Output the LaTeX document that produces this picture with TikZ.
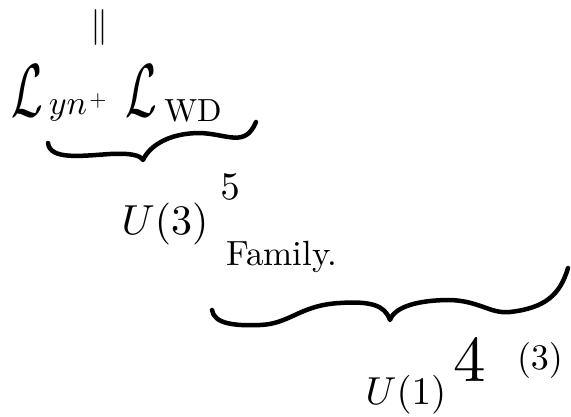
\documentclass[tikz,border=0pt]{standalone}
\usepackage{amsmath}
\usepackage{graphicx}
\tikzset{
  brace/.style={line width=4.5pt, line cap=round, line join=round},
  txt/.style={inner sep=0pt, outer sep=0pt},
}
\begin{document}
\begin{tikzpicture}[x=1pt,y=-1pt]
\useasboundingbox[fill=white] (0,0) rectangle (571,416);
% top double bar
\node[txt] (eq) at (99,27) {\scalebox{3.6}{$\|$}};
% Lagrangians
\node[txt] (L1) at (27,91) {\scalebox{4.6}[7.5]{$\mathcal{L}$}};
\node[txt] (yn) at (68,110) {\scalebox{3.4}{$yn$}};
\node[txt] (plus) at (98,101) {\scalebox{2.2}{$+$}};
\node[txt] (L2) at (141,91) {\scalebox{4.6}[7.5]{$\mathcal{L}$}};
\node[txt] (WD) at (193,111) {\scalebox{3.2}{WD}};
% first brace
\draw[brace] (48,143) .. controls (50,160) and (80,156) .. (110,154)
  .. controls (130,153) and (140,155) .. (143,160)
  .. controls (150,145) and (170,133) .. (200,133)
  .. controls (228,134) and (245,148) .. (256,122);
% U(3)^5 Family
\node[txt] (U3) at (165,224) {\scalebox{4.2}{$U(3)$}};
\node[txt] (five) at (230,187) {\scalebox{3.9}{$5$}};
\node[txt] (fam) at (282,257) {\scalebox{3.5}{Family.}};
% second brace
\draw[brace] (212,310) .. controls (214,324) and (235,326) .. (260,325)
  .. controls (290,324) and (300,305) .. (340,303)
  .. controls (370,301) and (385,305) .. (390,320)
  .. controls (395,306) and (420,300) .. (450,300)
  .. controls (480,301) and (490,314) .. (510,312)
  .. controls (545,308) and (560,295) .. (568,268);
% U(1)^4 (3)
\node[txt] (U1) at (406,395) {\scalebox{3.9}{$U(1)$}};
\node[txt] (four) at (470,361) {\scalebox{6.5}{$4$}};
\node[txt] (three) at (540,360) {\scalebox{3.6}{$(3)$}};
\end{tikzpicture}
\end{document}
